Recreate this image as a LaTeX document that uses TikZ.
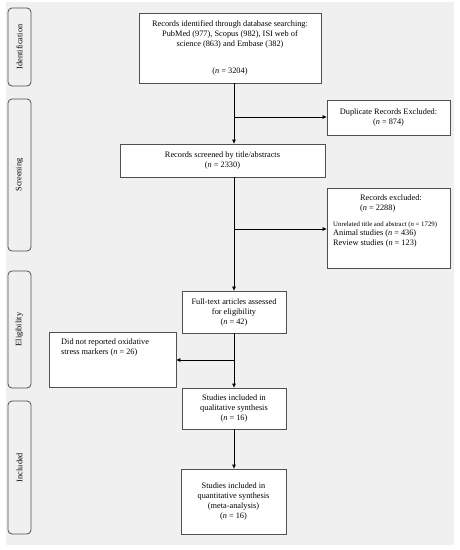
\documentclass[tikz,border=0pt]{standalone}
\usepackage{fontspec}
\setmainfont{Liberation Serif}
\usetikzlibrary{arrows.meta}
\definecolor{bgc}{HTML}{F0F0F0}
\definecolor{linec}{HTML}{505050}
\tikzset{
  box/.style={draw=linec, line width=0.8pt, fill=white, inner sep=0pt, align=center, font=\fontsize{8.3}{10}\selectfont},
  stage/.style={draw=linec, line width=0.8pt, rounded corners=4pt, inner sep=0pt},
  stagetext/.style={rotate=90, font=\fontsize{8.3}{10}\selectfont},
  txt/.style={inner sep=0pt, align=left, font=\fontsize{8.3}{10}\selectfont},
  conn/.style={draw=black, line width=0.8pt},
  arr/.style={conn, -{Triangle[length=4pt,width=3.5pt]}}
}
\begin{document}
\begin{tikzpicture}[x=1pt,y=-1pt]
\useasboundingbox (0,0) rectangle (459,550);
\fill[bgc] (6,2) rectangle (454,545);

% stage labels
\draw[stage] (8,8) rectangle (31,86);
\node[stagetext] (sid) at (19.5,47) {Identification};
\draw[stage] (8,99) rectangle (31,251);
\node[stagetext] (ssc) at (19.5,175) {Screening};
\draw[stage] (8,271) rectangle (31,388);
\node[stagetext] (sel) at (19.5,329.5) {Eligibility};
\draw[stage] (8,401) rectangle (31,534);
\node[stagetext] (sin) at (19.5,467.5) {Included};

% boxes
\node[box, minimum width=182pt, minimum height=70pt] (id) at (230,48)
  {Records identified through database searching:\\
   PubMed (977), Scopus (982), ISI web of\\
   science (863) and Embase (382)\\[17pt]
   (\textit{n} = 3204)};
\node[box, minimum width=123pt, minimum height=35pt] (dup) at (388.5,117.5)
  {Duplicate Records Excluded:\\(\textit{n} = 874)};
\node[box, minimum width=205pt, minimum height=33pt] (scr) at (222.5,160.5)
  {Records screened by title/abstracts\\(\textit{n} = 2330)};
\node[box, minimum width=123pt, minimum height=80pt] (exc) at (388.5,228) {};
\node[txt, anchor=base west] (exc1) at (360,200.5) {Records excluded:};
\node[txt, anchor=base west] (exc2) at (360,210) {(\textit{n} = 2288)};
\node[txt, anchor=base west, font=\fontsize{6.8}{8}\selectfont] (exc3) at (333,226) {Unrelated title and abstract (\textit{n} = 1729)};
\node[txt, anchor=base west] (exc4) at (333,235.5) {Animal studies (\textit{n} = 436)};
\node[txt, anchor=base west] (exc5) at (333,245) {Review studies (\textit{n} = 123)};
\node[box, minimum width=104pt, minimum height=42pt] (ft) at (234,312)
  {Full-text articles assessed\\for eligibility\\(\textit{n} = 42)};
\node[box, minimum width=127pt, minimum height=55pt] (dnr) at (112.5,359.5) {};
\node[txt, anchor=base west] (dnrt) at (61,354.5)
  {Did not reported oxidative\\stress markers (\textit{n} = 26)};
\node[box, minimum width=104pt, minimum height=41pt] (qual) at (234,408.5)
  {Studies included in\\qualitative synthesis\\(\textit{n} = 16)};
\node[box, minimum width=105pt, minimum height=65pt] (quant) at (233.5,501.5)
  {Studies included in\\quantitative synthesis\\(meta-analysis)\\(\textit{n} = 16)};

% connectors
\coordinate (b1) at (234,117);
\coordinate (b2) at (234,229);
\coordinate (b3) at (234,360);
\draw[arr] (id.south -| ft) -- (scr.north -| ft);
\draw[arr] (b1) -- (dup.west |- b1);
\draw[arr] (scr.south -| ft) -- (ft.north);
\draw[arr] (b2) -- (exc.west |- b2);
\draw[arr] (ft.south) -- (qual.north);
\draw[arr] (b3) -- (dnr.east |- b3);
\draw[arr] (qual.south) -- (quant.north -| qual);
\end{tikzpicture}
\end{document}
